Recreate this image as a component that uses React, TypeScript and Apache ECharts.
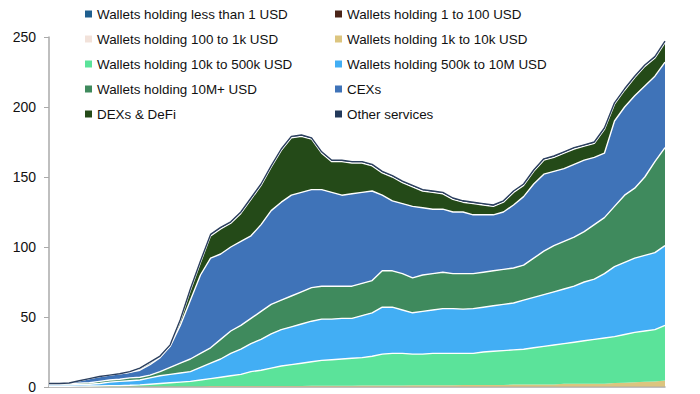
import React, { useEffect, useRef } from "react";
import * as echarts from "echarts";

// 62 sampling points along the time axis (no labels shown on the x axis)
const periods: string[] = Array.from({ length: 62 }, (_, i) => `t${i + 1}`);

const seriesNames = [
  "Wallets holding less than 1 USD",
  "Wallets holding 1 to 100 USD",
  "Wallets holding 100 to 1k USD",
  "Wallets holding 1k to 10k USD",
  "Wallets holding 10k to 500k USD",
  "Wallets holding 500k to 10M USD",
  "Wallets holding 10M+ USD",
  "CEXs",
  "DEXs & DeFi",
  "Other services",
];

const seriesColors = [
  "#1f5f8f",
  "#4a2418",
  "#f2e2da",
  "#dcc57f",
  "#5be39a",
  "#42aef4",
  "#3f8a5d",
  "#3f73b8",
  "#244a18",
  "#23395a",
];

const walletsLt1 = [
  0.05, 0.05, 0.05, 0.05, 0.05, 0.05, 0.05, 0.05, 0.05, 0.05,
  0.05, 0.05, 0.05, 0.05, 0.05, 0.05, 0.05, 0.05, 0.05, 0.05,
  0.05, 0.05, 0.05, 0.05, 0.05, 0.05, 0.05, 0.05, 0.05, 0.05,
  0.05, 0.05, 0.05, 0.05, 0.05, 0.05, 0.05, 0.05, 0.05, 0.05,
  0.05, 0.05, 0.05, 0.05, 0.05, 0.05, 0.05, 0.05, 0.05, 0.05,
  0.05, 0.05, 0.05, 0.05, 0.05, 0.05, 0.05, 0.05, 0.05, 0.05,
  0.05, 0.05,
];
const wallets1to100 = [
  0.1, 0.1, 0.1, 0.1, 0.1, 0.1, 0.1, 0.1, 0.1, 0.1,
  0.1, 0.1, 0.1, 0.1, 0.1, 0.1, 0.1, 0.1, 0.1, 0.1,
  0.1, 0.1, 0.1, 0.1, 0.1, 0.1, 0.1, 0.1, 0.1, 0.1,
  0.1, 0.1, 0.1, 0.1, 0.1, 0.1, 0.1, 0.1, 0.1, 0.1,
  0.1, 0.1, 0.1, 0.1, 0.1, 0.1, 0.1, 0.1, 0.1, 0.1,
  0.1, 0.1, 0.1, 0.1, 0.1, 0.1, 0.1, 0.1, 0.1, 0.1,
  0.1, 0.1,
];
const wallets100to1k = [
  0.25, 0.25, 0.25, 0.25, 0.25, 0.25, 0.25, 0.25, 0.25, 0.25,
  0.25, 0.25, 0.25, 0.25, 0.25, 0.25, 0.25, 0.25, 0.25, 0.25,
  0.25, 0.25, 0.25, 0.25, 0.25, 0.25, 0.25, 0.25, 0.25, 0.25,
  0.25, 0.25, 0.25, 0.25, 0.25, 0.25, 0.25, 0.25, 0.25, 0.25,
  0.25, 0.25, 0.25, 0.25, 0.25, 0.25, 0.25, 0.25, 0.25, 0.25,
  0.25, 0.25, 0.25, 0.25, 0.25, 0.25, 0.25, 0.25, 0.25, 0.25,
  0.25, 0.25,
];
const wallets1kto10k = [
  0.1, 0.1, 0.1, 0.1, 0.1, 0.1, 0.1, 0.1, 0.1, 0.1,
  0.1, 0.2, 0.2, 0.2, 0.2, 0.2, 0.3, 0.3, 0.3, 0.3,
  0.3, 0.4, 0.4, 0.4, 0.4, 0.4, 0.5, 0.5, 0.5, 0.5,
  0.5, 0.6, 0.6, 0.6, 0.6, 0.6, 0.8, 0.8, 0.8, 0.8,
  0.8, 1.0, 1.0, 1.0, 1.0, 1.0, 1.4, 1.4, 1.4, 1.4,
  1.4, 1.9, 1.9, 1.9, 1.9, 1.9, 2.4, 2.7, 3.0, 3.3,
  3.6, 4.2,
];
const wallets10kto500k = [
  0.05, 0.05, 0.05, 0.1, 0.2, 0.3, 0.5, 0.5, 0.7, 1.0,
  1.5, 1.9, 2.4, 2.9, 3.4, 4.4, 5.3, 6.3, 7.3, 8.3,
  10.3, 11.2, 12.7, 14.2, 15.2, 16.2, 17.1, 18.1, 18.6, 19.1,
  19.6, 20.0, 21.0, 22.5, 23.0, 23.0, 22.3, 22.3, 22.8, 22.8,
  22.8, 22.6, 22.6, 23.6, 24.1, 24.6, 24.7, 25.2, 26.2, 27.2,
  28.2, 28.7, 29.7, 30.7, 31.7, 32.7, 33.2, 34.4, 35.6, 36.3,
  37.0, 39.4,
];
const wallets500kto10M = [
  1.0, 1.0, 1.0, 1.2, 1.3, 1.7, 2.5, 3.0, 3.3, 3.5,
  4.5, 5.5, 6.0, 6.5, 7.0, 9.0, 11.0, 13.0, 16.0, 18.0,
  20.0, 22.0, 24.5, 26.0, 27.0, 28.0, 29.0, 29.5, 29.0, 29.0,
  28.5, 30.0, 31.0, 33.5, 33.0, 31.0, 29.5, 30.5, 31.0, 32.0,
  32.0, 31.6, 32.0, 32.0, 32.5, 33.0, 33.5, 35.0, 36.0, 37.0,
  38.0, 39.0, 40.0, 42.0, 43.0, 46.0, 50.0, 51.5, 53.0, 54.0,
  55.0, 57.0,
];
const wallets10Mplus = [
  0.5, 0.5, 0.7, 1.0, 1.0, 1.5, 1.5, 1.5, 2.0, 2.0,
  2.0, 3.0, 5.0, 7.0, 9.0, 10.0, 11.0, 14.0, 16.0, 17.0,
  18.0, 20.0, 21.0, 21.0, 22.0, 23.0, 24.0, 23.5, 23.5, 23.0,
  23.0, 23.0, 23.0, 26.0, 26.0, 26.0, 25.0, 26.0, 26.0, 26.0,
  25.0, 25.4, 25.0, 25.0, 25.0, 25.0, 25.0, 25.0, 28.0, 31.0,
  33.0, 34.0, 35.0, 36.0, 39.0, 40.0, 43.0, 48.0, 50.0, 56.0,
  65.0, 70.0,
];
const cexs = [
  0.5, 0.5, 0.6, 1.7, 3.0, 3.5, 3.5, 4.0, 4.0, 5.0,
  7.5, 10.0, 15.0, 27.0, 42.0, 56.0, 64.0, 61.0, 60.0, 60.0,
  59.0, 62.0, 67.0, 70.0, 72.0, 71.0, 70.0, 69.0, 67.0, 65.0,
  66.0, 65.0, 64.0, 54.0, 50.0, 50.0, 51.0, 48.0, 46.0, 45.0,
  44.0, 44.0, 42.0, 41.0, 40.0, 41.0, 45.0, 49.0, 53.0, 55.0,
  53.0, 52.0, 52.0, 51.0, 48.0, 46.0, 61.0, 63.0, 66.0, 65.0,
  61.0, 61.0,
];
const dexsDefi = [
  0, 0, 0, 0, 0, 0, 0, 0, 0, 1.0,
  1.2, 0.6, 0.6, 3.0, 7.0, 9.0, 16.0, 18.0, 17.0, 20.0,
  26.0, 28.0, 31.0, 37.0, 41.0, 40.0, 36.0, 26.0, 22.0, 24.0,
  22.0, 21.0, 18.0, 16.0, 17.0, 15.0, 14.0, 12.0, 12.0, 11.0,
  9.0, 7.0, 8.0, 7.0, 6.0, 7.0, 9.0, 8.0, 9.0, 10.0,
  10.0, 11.0, 11.0, 10.0, 10.0, 17.0, 12.0, 12.0, 13.0, 14.0,
  13.0, 14.0,
];
const otherServices = [
  0, 0, 0, 0, 0, 0, 0, 0, 0.5, 0.5,
  0.5, 0.5, 0.5, 1.0, 1.0, 1.0, 1.0, 1.0, 1.0, 1.0,
  1.0, 1.0, 1.0, 1.0, 1.0, 1.0, 1.0, 1.0, 1.0, 1.0,
  1.0, 1.0, 1.0, 1.0, 1.0, 1.0, 1.0, 1.0, 1.0, 1.0,
  1.0, 1.0, 1.0, 1.0, 1.0, 1.0, 1.0, 1.0, 1.0, 1.0,
  1.0, 1.0, 1.0, 1.0, 1.0, 1.0, 1.0, 1.0, 1.0, 1.0,
  1.0, 1.0,
];

const seriesValues = [
  walletsLt1,
  wallets1to100,
  wallets100to1k,
  wallets1kto10k,
  wallets10kto500k,
  wallets500kto10M,
  wallets10Mplus,
  cexs,
  dexsDefi,
  otherServices,
];

const yTicks = [0, 50, 100, 150, 200, 250];

export default function App() {
  const ref = useRef<HTMLDivElement>(null);

  useEffect(() => {
    if (!ref.current) return;
    const chart = echarts.init(ref.current, undefined, { renderer: "svg" });
    const font = "Liberation Sans, Arial, sans-serif";
    const legendCommon = {
      orient: "vertical" as const,
      top: 1,
      itemWidth: 7,
      itemHeight: 7,
      itemGap: 9,
      icon: "rect",
      selectedMode: false,
      textStyle: {
        fontFamily: font,
        fontSize: 13.4,
        color: "#111",
        lineHeight: 16,
      },
    };
    chart.setOption({
      animation: false,
      backgroundColor: "#fff",
      legend: [
        {
          ...legendCommon,
          left: 80,
          data: [0, 2, 4, 6, 8].map((i) => ({
            name: seriesNames[i],
            itemStyle: { color: seriesColors[i] },
          })),
        },
        {
          ...legendCommon,
          left: 330,
          data: [1, 3, 5, 7, 9].map((i) => ({
            name: seriesNames[i],
            itemStyle: { color: seriesColors[i] },
          })),
        },
      ],
      grid: { left: 49, right: 35, top: 37, bottom: 2, containLabel: false },
      xAxis: {
        type: "category",
        data: periods,
        boundaryGap: false,
        axisLine: { show: true, lineStyle: { color: "#aaa", width: 1.5 } },
        axisTick: { show: false },
        axisLabel: { show: false },
        splitLine: { show: false },
      },
      yAxis: {
        type: "value",
        min: yTicks[0],
        max: yTicks[yTicks.length - 1],
        interval: 50,
        axisLine: { show: true, lineStyle: { color: "#aaa", width: 1.5 } },
        axisTick: { show: true, inside: false, length: 5, lineStyle: { color: "#aaa" } },
        axisLabel: {
          fontFamily: font,
          fontSize: 14,
          color: "#111",
          margin: 13,
        },
        splitLine: { show: false },
      },
      series: seriesNames.map((name, i) => ({
        name,
        type: "line",
        stack: "total",
        data: seriesValues[i],
        symbol: "none",
        smooth: false,
        color: seriesColors[i],
        itemStyle: { color: seriesColors[i] },
        lineStyle: {
          color: i === 9 ? "#2b3f5e" : "#ffffff",
          width: 1.4,
          opacity: i < 4 ? 0 : 1,
        },
        areaStyle: { color: seriesColors[i], opacity: 1 },
        emphasis: { disabled: true },
        z: 2,
      })),
    });
    return () => chart.dispose();
  }, []);

  return <div ref={ref} style={{ width: 700, height: 394, position: "absolute", left: 0, top: 0 }} />;
}
